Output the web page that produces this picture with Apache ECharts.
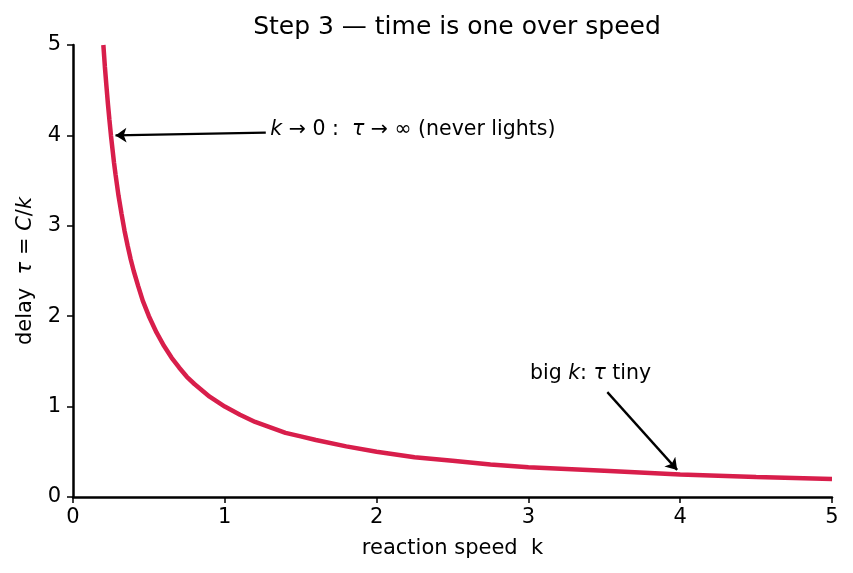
<!DOCTYPE html>
<html>
<head>
<meta charset="utf-8">
<script src="https://cdn.jsdelivr.net/npm/echarts@6/dist/echarts.min.js"></script>
<style>
  html, body { margin: 0; padding: 0; background: #fff; }
  #chart { width: 853px; height: 573px; }
</style>
</head>
<body>
<div id="chart"></div>
<script>
// reaction speed k and delay tau
const speedK = [0.2, 0.21, 0.22, 0.23, 0.24, 0.25, 0.26, 0.27, 0.28, 0.3, 0.32, 0.34, 0.36, 0.38, 0.4,
                0.43, 0.46, 0.5, 0.55, 0.6, 0.65, 0.7, 0.75, 0.8, 0.9, 1.0, 1.1, 1.2, 1.3, 1.4, 1.5,
                1.6, 1.8, 2.0, 2.25, 2.5, 2.75, 3.0, 3.5, 4.0, 4.5, 5.0];
const delayTau = [5.0, 4.76, 4.55, 4.35, 4.17, 4.0, 3.85, 3.7, 3.57, 3.33, 3.13, 2.94, 2.78, 2.63, 2.5,
                  2.33, 2.17, 2.0, 1.82, 1.67, 1.54, 1.43, 1.33, 1.25, 1.11, 1.0, 0.91, 0.83, 0.77, 0.71, 0.67,
                  0.63, 0.56, 0.5, 0.44, 0.4, 0.36, 0.33, 0.29, 0.25, 0.22, 0.2];
const tickValues = [0, 1, 2, 3, 4, 5];

// annotations: [from, to] in data units
const arrowZero = [[1.27, 4.03], [0.28, 4.0]];
const arrowBig = [[3.52, 1.16], [3.98, 0.30]];
const labelZeroAt = [1.3, 4.06];
const labelBigAt = [3.01, 1.36];

const FONT = 'DejaVu Sans';
const curve = speedK.map((k, i) => [k, delayTau[i]]);

const chart = echarts.init(document.getElementById('chart'));

const richStyles = (size) => ({
    n: { fontFamily: FONT, fontSize: size, color: '#000' },
    i: { fontStyle: 'italic', fontFamily: FONT, fontSize: size, color: '#000' }
});

chart.setOption({
    animation: false,
    backgroundColor: '#fff',
    title: {
        text: 'Step 3 — time is one over speed',
        left: 452,
        top: 10,
        textAlign: 'center',
        textStyle: { fontFamily: FONT, fontSize: 25, fontWeight: 'normal', color: '#000' }
    },
    grid: { left: 73, right: 21, top: 45, bottom: 76 },
    xAxis: {
        type: 'value',
        min: 0, max: 5, interval: 1,
        name: 'reaction speed  k',
        nameLocation: 'middle',
        nameGap: 41,
        nameTextStyle: { fontFamily: FONT, fontSize: 21, color: '#000' },
        axisLine: { lineStyle: { color: '#000', width: 2.5 } },
        axisTick: { show: true, length: 6, lineStyle: { color: '#000', width: 1.5 } },
        axisLabel: {
            fontFamily: FONT, fontSize: 21, color: '#000', margin: 10,
            formatter: v => tickValues.includes(v) ? String(v) : ''
        },
        splitLine: { show: false }
    },
    yAxis: {
        type: 'value',
        min: 0, max: 5, interval: 1,
        name: '{n|delay  }{i|τ}{n| = }{i|C}{n|/}{i|k}',
        nameLocation: 'middle',
        nameGap: 37,
        nameRotate: 90,
        nameTextStyle: { fontFamily: FONT, fontSize: 21, color: '#000', rich: richStyles(21) },
        axisLine: { show: true, lineStyle: { color: '#000', width: 2.5 } },
        axisTick: { show: true, length: 6, lineStyle: { color: '#000', width: 1.5 } },
        axisLabel: { fontFamily: FONT, fontSize: 21, color: '#000', margin: 12 },
        splitLine: { show: false }
    },
    series: [
        {
            type: 'line',
            data: curve,
            smooth: false,
            showSymbol: false,
            lineStyle: { color: '#d81e4b', width: 4.5 },
            z: 2
        },
        {
            type: 'lines',
            coordinateSystem: 'cartesian2d',
            polyline: false,
            symbol: ['none', 'arrow'],
            symbolSize: 11,
            lineStyle: { color: '#000', width: 2.3, opacity: 1, curveness: 0 },
            data: [{ coords: arrowZero }, { coords: arrowBig }],
            z: 4
        }
    ]
});

// annotation texts, placed through the axes
const note = (at, text) => {
    const p = chart.convertToPixel({ gridIndex: 0 }, at);
    return {
        type: 'text',
        x: p[0],
        y: p[1],
        z: 10,
        style: {
            text: text,
            fill: '#000',
            font: '20.5px "' + FONT + '"',
            verticalAlign: 'middle',
            align: 'left',
            rich: richStyles(20.5)
        }
    };
};

chart.setOption({
    graphic: [
        note(labelZeroAt, '{i|k}{n| → 0 :  }{i|τ}{n| → ∞ (never lights)}'),
        note(labelBigAt, '{n|big }{i|k}{n|: }{i|τ}{n| tiny}')
    ]
});
</script>
</body>
</html>
